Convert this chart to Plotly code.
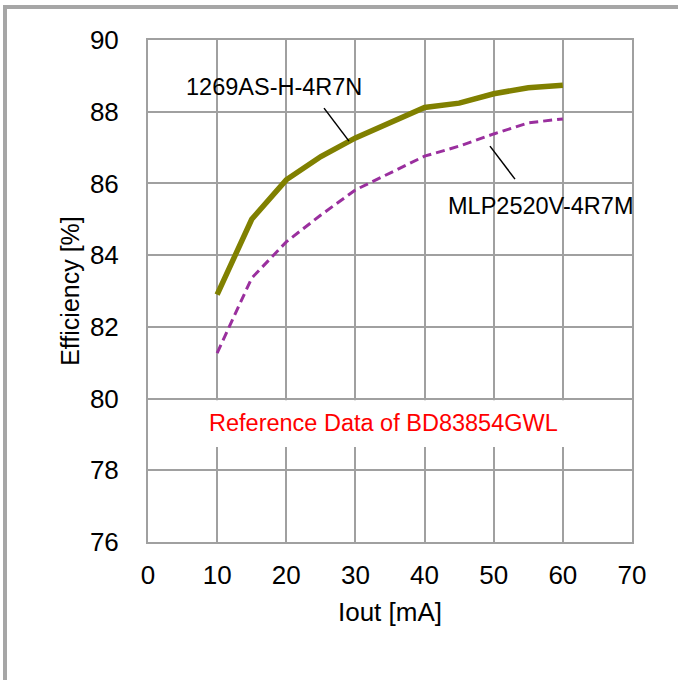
import plotly.graph_objects as go

iout = [10, 15, 20, 25, 30, 35, 40, 45, 50, 55, 60]
eff_1269 = [82.9, 85.0, 86.1, 86.75, 87.27, 87.7, 88.12, 88.24, 88.5, 88.67, 88.74]
eff_mlp = [81.27, 83.36, 84.37, 85.12, 85.82, 86.3, 86.76, 87.04, 87.38, 87.69, 87.8]

x_ticks = [0, 10, 20, 30, 40, 50, 60, 70]
y_ticks = [76, 78, 80, 82, 84, 86, 88, 90]

FONT = "Arial, Liberation Sans, sans-serif"
GRID = "#a0a0a0"

fig = go.Figure()
fig.add_trace(go.Scatter(x=iout, y=eff_1269, mode="lines", name="1269AS-H-4R7N",
                         line=dict(color="#808000", width=5.5)))
fig.add_trace(go.Scatter(x=iout, y=eff_mlp, mode="lines", name="MLP2520V-4R7M",
                         line=dict(color="#9a2f9e", width=3, dash="9px,5px")))

# white box behind red note (covers gridlines)
fig.add_shape(type="rect", xref="x", yref="y", x0=0.3, x1=69.7, y0=78.65, y1=79.95,
              fillcolor="white", line=dict(width=0), layer="between")
# leader lines
fig.add_shape(type="line", xref="x", yref="y", x0=25.46, y0=88.10, x1=29.07, y1=87.18,
              line=dict(color="black", width=1.5))
fig.add_shape(type="line", xref="x", yref="y", x0=49.46, y0=87.04, x1=53.08, y1=86.12,
              line=dict(color="black", width=1.5))
# outer frame (top and left)
fig.add_shape(type="line", xref="paper", yref="paper",
              x0=(3 - 148) / 484, x1=(678 - 148) / 484, y0=(542 - 7) / 502, y1=(542 - 7) / 502,
              line=dict(color="#a6a6a6", width=4))
fig.add_shape(type="line", xref="paper", yref="paper",
              x0=(5 - 148) / 484, x1=(5 - 148) / 484, y0=(542 - 5) / 502, y1=(542 - 690) / 502,
              line=dict(color="#a6a6a6", width=4))

fig.add_annotation(x=18.22, y=88.69, xref="x", yref="y", text="1269AS-H-4R7N",
                   showarrow=False, font=dict(family=FONT, size=23.5, color="black"))
fig.add_annotation(x=56.84, y=85.37, xref="x", yref="y", text="MLP2520V-4R7M",
                   showarrow=False, font=dict(family=FONT, size=23.5, color="black"))
fig.add_annotation(x=34.06, y=79.32, xref="x", yref="y", text="Reference Data of BD83854GWL",
                   showarrow=False, font=dict(family=FONT, size=23.5, color="#ff0000"))

fig.update_layout(
    width=678, height=680,
    margin=dict(l=148, r=46, t=40, b=138, pad=0),
    paper_bgcolor="white", plot_bgcolor="white",
    showlegend=False,
    font=dict(family=FONT, color="black"),
)
fig.update_xaxes(range=[0, 70], tickvals=x_ticks, ticktext=[str(v) for v in x_ticks],
                 showgrid=True, gridcolor=GRID, gridwidth=1.5,
                 showline=True, linecolor=GRID, linewidth=2, mirror=True,
                 zeroline=False, ticks="", ticklabelstandoff=9,
                 tickfont=dict(family=FONT, size=26),
                 title=dict(text="Iout [mA]", font=dict(family=FONT, size=26), standoff=14))
fig.update_yaxes(range=[76, 90], tickvals=y_ticks, ticktext=[str(v) for v in y_ticks],
                 showgrid=True, gridcolor=GRID, gridwidth=1.5,
                 showline=True, linecolor=GRID, linewidth=2, mirror=True,
                 zeroline=False, ticks="", ticklabelstandoff=22,
                 tickfont=dict(family=FONT, size=26),
                 title=dict(text="Efficiency [%]", font=dict(family=FONT, size=25), standoff=3))

fig.write_html("out.html", config={"displayModeBar": False},
               post_script="document.body.style.margin='0';")
